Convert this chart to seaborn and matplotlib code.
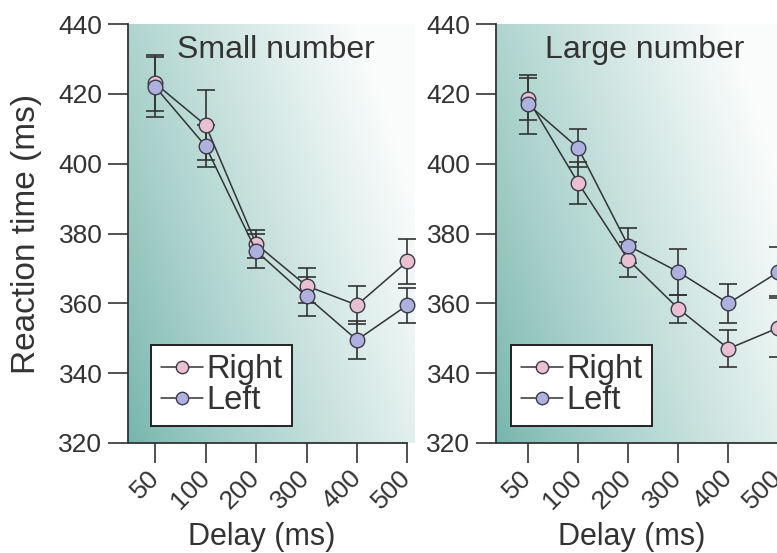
import numpy as np
import pandas as pd
import matplotlib
matplotlib.use("Agg")
import matplotlib.pyplot as plt
import seaborn as sns

# Delay conditions and mean reaction times (ms) with error-bar half-widths
delays = ["50", "100", "200", "300", "400", "500"]

small_right = [423, 411, 377, 365, 359.5, 372]
small_right_err = [8, 10, 4, 5, 5.5, 6.5]
small_left = [422, 405, 375, 362, 349.5, 359.5]
small_left_err = [8.5, 6, 5, 5.5, 5.5, 5]

large_right = [418.5, 394.5, 372.5, 358.5, 347, 353]
large_right_err = [6, 6, 5, 4, 5.3, 8.5]
large_left = [417, 404.5, 376.5, 369, 360, 369]
large_left_err = [8.5, 5.5, 5, 6.5, 5.5, 7]

panel_titles = ["Small number", "Large number"]
series_names = ["Right", "Left"]
yticks = [320, 340, 360, 380, 400, 420, 440]

sns.set_style("ticks")
plt.rcParams["font.family"] = ["Liberation Sans", "DejaVu Sans"]

INK = "#333333"
FILL = {"Right": "#e8c0d2", "Left": "#aeb1de"}
TEAL = np.array([115, 180, 170]) / 255.0

W, H = 777, 553
fig = plt.figure(figsize=(W / 100, H / 100), dpi=100)

panels = [
    dict(rect=[128 / W, 110 / H, 287 / W, 419 / H], xlim=(-0.54, 5.15),
         right=small_right, right_err=small_right_err,
         left=small_left, left_err=small_left_err,
         title_x=2.4, xlabel_x=0.467, legend_x=0.08, ylabel=True),
    dict(rect=[496 / W, 110 / H, 290 / W, 419 / H], xlim=(-0.64, 5.15),
         right=large_right, right_err=large_right_err,
         left=large_left, left_err=large_left_err,
         title_x=2.32, xlabel_x=0.469, legend_x=0.052, ylabel=False),
]

# diagonal teal-to-white shading for the plotting area
nx, ny = 300, 200
gx = np.linspace(0, 1, nx)[None, :]
gy = np.linspace(1, 0, ny)[:, None]
t = np.clip(0.75 * gx + 0.35 * gy, 0, 1) ** 0.8
t = np.minimum(t, 0.97)
grad = TEAL[None, None, :] * (1 - t[..., None]) + np.ones(3)[None, None, :] * t[..., None]

x_pos = np.arange(len(delays))

for i, p in enumerate(panels):
    ax = fig.add_axes(p["rect"])
    ax.imshow(grad, extent=(p["xlim"][0], p["xlim"][1], 320, 440),
              aspect="auto", zorder=0, interpolation="bilinear")

    for name, vals, errs in [("Right", p["right"], p["right_err"]),
                             ("Left", p["left"], p["left_err"])]:
        ax.errorbar(x_pos, vals, yerr=errs, fmt="none", ecolor=INK,
                    elinewidth=1.2, capsize=6.5, capthick=1.2, zorder=2)
        df = pd.DataFrame({"delay": x_pos, "rt": vals})
        sns.lineplot(data=df, x="delay", y="rt", ax=ax, color=INK,
                     linewidth=1.1, marker="o", markersize=10.5,
                     markerfacecolor=FILL[name], markeredgecolor="#3a3a4a",
                     markeredgewidth=1.0, label=name, zorder=3,
                     clip_on=False)

    ax.set_xlim(*p["xlim"])
    ax.set_ylim(320, 440)
    ax.set_yticks(yticks)
    ax.set_yticklabels([str(v) for v in yticks])
    ax.set_xticks(x_pos)
    ax.set_xticklabels(delays, rotation=45, ha="right", va="center",
                       rotation_mode="anchor")

    for s in ["top", "right"]:
        ax.spines[s].set_visible(False)
    for s in ["left", "bottom"]:
        ax.spines[s].set_color(INK)
        ax.spines[s].set_linewidth(1.3)
    ax.spines["bottom"].set_bounds(p["xlim"][0], 5)

    ax.tick_params(axis="both", length=14.4, width=1.2, color=INK,
                   labelsize=19, labelcolor=INK, pad=4)
    ax.tick_params(axis="x", pad=8)

    ax.text(p["title_x"], 430.3, panel_titles[i], ha="center", va="baseline",
            fontsize=23, color=INK)

    ax.set_xlabel("Delay (ms)", fontsize=22, color=INK)
    ax.xaxis.set_label_coords(p["xlabel_x"], -79 / 419)
    if p["ylabel"]:
        ax.set_ylabel("Reaction time (ms)", fontsize=24, color=INK)
        ax.yaxis.label.set_va("center")
        ax.yaxis.set_label_coords(-0.355, 0.5)
    else:
        ax.set_ylabel("")

    leg = ax.legend(loc="lower left", bbox_to_anchor=(p["legend_x"], 0.04),
                    borderaxespad=0, fontsize=23.5, frameon=True, fancybox=False,
                    handlelength=1.3, handletextpad=0.1, labelspacing=0.0,
                    borderpad=0.3, markerscale=0.85)
    leg.get_frame().set_edgecolor("#222222")
    leg.get_frame().set_linewidth(1.4)
    leg.get_frame().set_facecolor("white")
    leg.get_frame().set_alpha(1)
    for txt in leg.get_texts():
        txt.set_color(INK)

fig.savefig("out.png", dpi=100)
